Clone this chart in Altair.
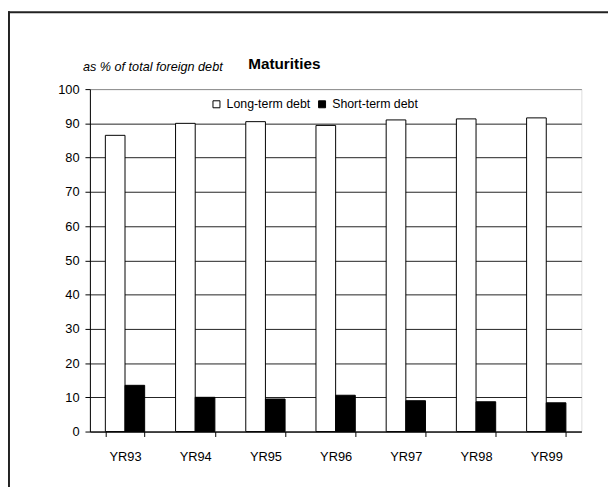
import altair as alt
import pandas as pd

years = ["YR93", "YR94", "YR95", "YR96", "YR97", "YR98", "YR99"]
long_term = [86.5, 90.0, 90.5, 89.4, 91.0, 91.3, 91.6]
short_term = [13.5, 10.0, 9.5, 10.6, 9.0, 8.7, 8.4]
series = ["Long-term debt", "Short-term debt"]
y_ticks = list(range(0, 101, 10))

rows = []
for i, yr in enumerate(years):
    rows.append({"year": yr, "series": series[0], "value": long_term[i]})
    rows.append({"year": yr, "series": series[1], "value": short_term[i]})
df = pd.DataFrame(rows)

FONT = "Liberation Sans"

bars = alt.Chart(df).mark_bar(stroke="black", strokeWidth=1).encode(
    x=alt.X("year:N", sort=years, title=None,
            scale=alt.Scale(paddingInner=0.44, paddingOuter=0.22),
            axis=alt.Axis(labelAngle=0, tickBand="extent", domainColor="black",
                          tickColor="black", tickSize=5, labelFontSize=13,
                          labelPadding=14, labelColor="black", labelFont=FONT,
                          grid=False)),
    xOffset=alt.XOffset("series:N", sort=series,
                        scale=alt.Scale(paddingInner=0, paddingOuter=0)),
    y=alt.Y("value:Q", title=None,
            scale=alt.Scale(domain=[0, 100], nice=False),
            axis=alt.Axis(values=y_ticks, domainColor="black", tickColor="black",
                          tickSize=5, labelFontSize=13, labelPadding=6,
                          labelColor="black", labelFont=FONT, grid=True,
                          gridColor=alt.condition("datum.value >= 100",
                                                  alt.value("#8a8a8a"),
                                                  alt.value("#222222")))),
    color=alt.Color("series:N", sort=series,
                    scale=alt.Scale(domain=series, range=["white", "black"]),
                    legend=alt.Legend(title=None, orient="none", legendX=122,
                                      legendY=9, direction="horizontal",
                                      symbolType="square", symbolSize=50,
                                      symbolStrokeColor="black",
                                      symbolStrokeWidth=1, labelFontSize=12.5,
                                      labelFont=FONT, labelColor="black",
                                      labelOffset=4, columnPadding=5,
                                      padding=0)),
)

title_df = pd.DataFrame({"t": ["Maturities"]})
title = alt.Chart(title_df).mark_text(
    font=FONT, fontSize=15.5, fontWeight="bold", color="black",
    align="center", baseline="middle"
).encode(text="t:N", x=alt.value(197), y=alt.value(-25))

sub_df = pd.DataFrame({"t": ["as %  of total foreign debt"]})
subtitle = alt.Chart(sub_df).mark_text(
    font=FONT, fontSize=12.8, fontStyle="italic", color="black",
    align="left", baseline="middle"
).encode(text="t:N", x=alt.value(-7), y=alt.value(-22))

frame_left = alt.Chart(title_df).mark_rule(color="#222222", strokeWidth=2).encode(
    x=alt.value(-82), y=alt.value(-79), y2=alt.value(420))
frame_top = alt.Chart(title_df).mark_rule(color="#222222", strokeWidth=2).encode(
    x=alt.value(-83), x2=alt.value(560), y=alt.value(-78))

chart = alt.layer(bars, title, subtitle, frame_left, frame_top).properties(
    width=498, height=347,
    padding={"left": 83, "top": 79, "right": 27, "bottom": 53},
    autosize=alt.AutoSizeParams(type="none"),
).configure_view(stroke="#8a8a8a", strokeWidth=1).configure(background="white")

chart.save("out.html", embed_options={"renderer": "svg", "actions": False})
